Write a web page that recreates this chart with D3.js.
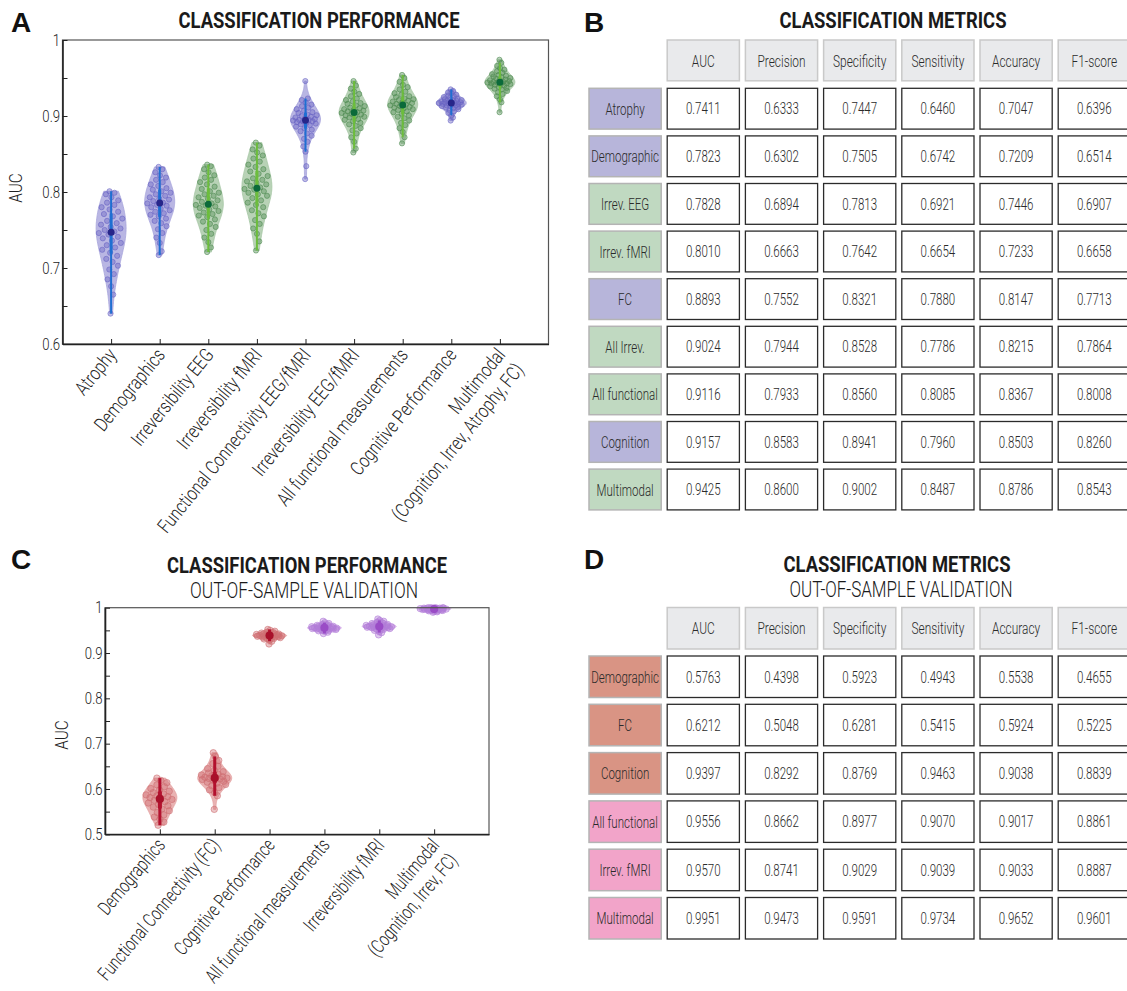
<!DOCTYPE html>
<html>
<head>
<meta charset="utf-8">
<script src="https://cdn.jsdelivr.net/npm/d3@7"></script>
<style>
  body { margin: 0; background: #fff; }
  text { font-family: Roboto, "Liberation Sans", sans-serif; fill: #222; }
</style>
</head>
<body>
<div id="chart"></div>
<script>
// ---- panel A data (AUC per cross-validation run) ----
var catsA = ["Atrophy", "Demographics", "Irreversibility EEG", "Irreversibility fMRI",
  "Functional Connectivity EEG/fMRI", "Irreversibility EEG/fMRI", "All functional measurements",
  "Cognitive Performance", "Multimodal\n(Cognition, Irrev, Atrophy, FC)"];

var atrophyAUC = [0.640, 0.665, 0.676, 0.685, 0.692, 0.698, 0.703, 0.708, 0.712, 0.716, 0.720, 0.724, 0.727, 0.730,
  0.733, 0.736, 0.739, 0.741, 0.744, 0.746, 0.748, 0.750, 0.752, 0.754, 0.757, 0.759, 0.762, 0.765, 0.768, 0.771,
  0.774, 0.777, 0.780, 0.783, 0.786, 0.789, 0.793, 0.797, 0.799, 0.801];
var demographicsAUC = [0.717, 0.722, 0.733, 0.740, 0.746, 0.751, 0.755, 0.759, 0.762, 0.765, 0.768, 0.770, 0.772,
  0.774, 0.776, 0.778, 0.780, 0.782, 0.783, 0.785, 0.786, 0.788, 0.790, 0.791, 0.793, 0.795, 0.797, 0.799, 0.801,
  0.803, 0.805, 0.808, 0.810, 0.813, 0.816, 0.819, 0.822, 0.826, 0.830, 0.833];
var irrevEegAUC = [0.721, 0.727, 0.734, 0.740, 0.745, 0.750, 0.754, 0.758, 0.761, 0.764, 0.767, 0.769, 0.771, 0.773,
  0.775, 0.777, 0.779, 0.781, 0.782, 0.783, 0.785, 0.787, 0.789, 0.791, 0.793, 0.795, 0.797, 0.799, 0.801, 0.804,
  0.807, 0.810, 0.813, 0.816, 0.819, 0.822, 0.826, 0.830, 0.834, 0.836];
var irrevFmriAUC = [0.723, 0.735, 0.745, 0.752, 0.758, 0.763, 0.768, 0.772, 0.776, 0.780, 0.783, 0.786, 0.789, 0.792,
  0.795, 0.797, 0.799, 0.801, 0.803, 0.804, 0.806, 0.808, 0.810, 0.812, 0.814, 0.816, 0.818, 0.821, 0.824, 0.827,
  0.830, 0.833, 0.836, 0.840, 0.844, 0.848, 0.852, 0.856, 0.861, 0.865];
var fcAUC = [0.817, 0.834, 0.853, 0.860, 0.866, 0.870, 0.874, 0.877, 0.880, 0.882, 0.884, 0.886, 0.888, 0.889, 0.890,
  0.891, 0.892, 0.893, 0.893, 0.894, 0.895, 0.895, 0.896, 0.897, 0.898, 0.899, 0.900, 0.901, 0.902, 0.904, 0.905,
  0.907, 0.909, 0.911, 0.913, 0.915, 0.918, 0.921, 0.923, 0.946];
var irrevBothAUC = [0.852, 0.857, 0.866, 0.872, 0.877, 0.881, 0.884, 0.887, 0.889, 0.891, 0.893, 0.895, 0.896, 0.898,
  0.899, 0.900, 0.901, 0.902, 0.903, 0.904, 0.905, 0.906, 0.907, 0.908, 0.909, 0.910, 0.911, 0.913, 0.914, 0.916,
  0.917, 0.919, 0.921, 0.923, 0.926, 0.929, 0.932, 0.936, 0.940, 0.946];
var allFunctionalAUC = [0.864, 0.872, 0.879, 0.884, 0.888, 0.891, 0.894, 0.897, 0.899, 0.901, 0.903, 0.905, 0.906,
  0.908, 0.909, 0.910, 0.911, 0.912, 0.913, 0.914, 0.915, 0.916, 0.917, 0.918, 0.919, 0.920, 0.921, 0.922, 0.923,
  0.925, 0.926, 0.928, 0.930, 0.932, 0.935, 0.938, 0.941, 0.945, 0.950, 0.954];
var cognitionAUC = [0.894, 0.898, 0.901, 0.904, 0.906, 0.908, 0.909, 0.910, 0.911, 0.912, 0.913, 0.913, 0.914, 0.914,
  0.915, 0.915, 0.916, 0.916, 0.917, 0.917, 0.917, 0.918, 0.918, 0.919, 0.919, 0.920, 0.920, 0.921, 0.921, 0.922,
  0.923, 0.924, 0.925, 0.926, 0.927, 0.928, 0.930, 0.931, 0.933, 0.935];
var multimodalAUC = [0.905, 0.918, 0.922, 0.926, 0.929, 0.931, 0.933, 0.935, 0.936, 0.937, 0.938, 0.939, 0.940, 0.941,
  0.942, 0.942, 0.943, 0.943, 0.944, 0.944, 0.945, 0.945, 0.946, 0.947, 0.947, 0.948, 0.949, 0.950, 0.951, 0.952,
  0.953, 0.954, 0.955, 0.957, 0.959, 0.961, 0.963, 0.966, 0.970, 0.974];

// ---- panel C data (out-of-sample) ----
var catsC = ["Demographics", "Functional Connectivity (FC)", "Cognitive Performance",
  "All functional measurements", "Irreversibility fMRI", "Multimodal\n(Cognition, Irrev, FC)"];

var oosDemographics = [0.520, 0.527, 0.533, 0.538, 0.543, 0.548, 0.552, 0.556, 0.560, 0.563, 0.566, 0.569, 0.572,
  0.575, 0.577, 0.579, 0.581, 0.583, 0.585, 0.587, 0.589, 0.592, 0.595, 0.598, 0.601, 0.605, 0.609, 0.614, 0.619, 0.624];
var oosFC = [0.555, 0.585, 0.592, 0.598, 0.603, 0.607, 0.610, 0.613, 0.615, 0.617, 0.619, 0.621, 0.622, 0.623, 0.624,
  0.625, 0.626, 0.627, 0.629, 0.631, 0.633, 0.635, 0.638, 0.641, 0.645, 0.650, 0.656, 0.663, 0.672, 0.680];
var oosCognition = [0.920, 0.926, 0.929, 0.931, 0.932, 0.933, 0.934, 0.935, 0.935, 0.936, 0.936, 0.937, 0.937, 0.938,
  0.938, 0.939, 0.939, 0.940, 0.940, 0.941, 0.941, 0.942, 0.942, 0.943, 0.944, 0.945, 0.946, 0.948, 0.950, 0.952];
var oosAllFunctional = [0.943, 0.946, 0.948, 0.949, 0.950, 0.951, 0.952, 0.952, 0.953, 0.953, 0.954, 0.954, 0.955,
  0.955, 0.955, 0.956, 0.956, 0.957, 0.957, 0.958, 0.958, 0.959, 0.959, 0.960, 0.961, 0.962, 0.963, 0.965, 0.967, 0.970];
var oosIrrevFmri = [0.940, 0.945, 0.948, 0.950, 0.952, 0.953, 0.954, 0.955, 0.956, 0.956, 0.957, 0.957, 0.958, 0.958,
  0.958, 0.959, 0.959, 0.960, 0.960, 0.961, 0.961, 0.962, 0.963, 0.964, 0.965, 0.966, 0.968, 0.970, 0.972, 0.975];
var oosMultimodal = [0.990, 0.991, 0.992, 0.993, 0.993, 0.994, 0.994, 0.995, 0.995, 0.995, 0.996, 0.996, 0.996, 0.996,
  0.997, 0.997, 0.997, 0.997, 0.998, 0.998, 0.998, 0.998, 0.999, 0.999, 0.999, 0.999, 1.000, 1.000, 1.000, 1.000];

// ---- tables ----
var metrics = ["AUC", "Precision", "Specificity", "Sensitivity", "Accuracy", "F1-score"];
var rowsB = ["Atrophy", "Demographic", "Irrev. EEG", "Irrev. fMRI", "FC", "All Irrev.", "All functional", "Cognition", "Multimodal"];
var valuesB = [
  [0.7411, 0.6333, 0.7447, 0.6460, 0.7047, 0.6396],
  [0.7823, 0.6302, 0.7505, 0.6742, 0.7209, 0.6514],
  [0.7828, 0.6894, 0.7813, 0.6921, 0.7446, 0.6907],
  [0.8010, 0.6663, 0.7642, 0.6654, 0.7233, 0.6658],
  [0.8893, 0.7552, 0.8321, 0.7880, 0.8147, 0.7713],
  [0.9024, 0.7944, 0.8528, 0.7786, 0.8215, 0.7864],
  [0.9116, 0.7933, 0.8560, 0.8085, 0.8367, 0.8008],
  [0.9157, 0.8583, 0.8941, 0.7960, 0.8503, 0.8260],
  [0.9425, 0.8600, 0.9002, 0.8487, 0.8786, 0.8543]];
var rowsD = ["Demographic", "FC", "Cognition", "All functional", "Irrev. fMRI", "Multimodal"];
var valuesD = [
  [0.5763, 0.4398, 0.5923, 0.4943, 0.5538, 0.4655],
  [0.6212, 0.5048, 0.6281, 0.5415, 0.5924, 0.5225],
  [0.9397, 0.8292, 0.8769, 0.9463, 0.9038, 0.8839],
  [0.9556, 0.8662, 0.8977, 0.9070, 0.9017, 0.8861],
  [0.9570, 0.8741, 0.9029, 0.9039, 0.9033, 0.8887],
  [0.9951, 0.9473, 0.9591, 0.9734, 0.9652, 0.9601]];

// ---- styles ----
var purple = {fill: "#a7a4dc", dot: "#6a64c4", line: "#1f6fd2", med: "#27268a"},
    green  = {fill: "#a6c7a4", dot: "#4f8c52", line: "#6cbd3c", med: "#0b6a3a"},
    red    = {fill: "#e3a0a0", dot: "#cf6f72", line: "#b3112e", med: "#a8102a"},
    violet = {fill: "#d4ace8", dot: "#b27cd8", line: "#9a4cc6", med: "#9a4cc6"};
var palA = [purple, purple, green, green, purple, green, green, purple, green];
var palC = [red, red, red, violet, violet, violet];
var rowFillB = ["#b7b5da", "#b7b5da", "#c0d9c1", "#c0d9c1", "#b7b5da", "#c0d9c1", "#c0d9c1", "#b7b5da", "#c0d9c1"];
var rowFillD = ["#d99484", "#d99484", "#d99484", "#f2a4c9", "#f2a4c9", "#f2a4c9"];

var svg = d3.select("#chart").append("svg")
    .attr("width", 1127)
    .attr("height", 991);

var fmt4 = d3.format(".4f");

// panel letters and titles
function letter(txt, x, y) {
  svg.append("text").attr("x", x).attr("y", y).text(txt)
    .style("font-family", "'Liberation Sans', Arial, sans-serif")
    .style("font-weight", "bold").style("font-size", "28px").style("fill", "#111");
}
function title(txt, cx, y, len, bold) {
  svg.append("text").attr("x", cx).attr("y", y).text(txt)
    .attr("text-anchor", "middle")
    .attr("textLength", len).attr("lengthAdjust", "spacingAndGlyphs")
    .style("font-weight", bold ? "bold" : "300")
    .style("font-size", "22px").style("fill", "#1a1a1a");
}

letter("A", 11, 32);
letter("B", 584, 32);
letter("C", 11, 569);
letter("D", 584, 569);
title("CLASSIFICATION PERFORMANCE", 319, 28, 281, true);
title("CLASSIFICATION METRICS", 893, 28, 227, true);
title("CLASSIFICATION PERFORMANCE", 307, 573, 280, true);
title("OUT-OF-SAMPLE VALIDATION", 304, 598, 228, false);
title("CLASSIFICATION METRICS", 897, 572, 227, true);
title("OUT-OF-SAMPLE VALIDATION", 901, 597, 223, false);

// violin + swarm panel
function violinPanel(sets, cats, pal, x, y, yTicks, halfW, r, lw, squeeze, angle) {
  var x0 = x.range()[0], x1 = x.range()[1], y0 = y.range()[0], y1 = y.range()[1];
  var g = svg.append("g");

  sets.forEach(function(vals, i) {
    var c = pal[i], cx = x(i + 1);
    var s = vals.slice().sort(d3.ascending), n = s.length;
    var bw = 1.06 * d3.deviation(s) * Math.pow(n, -0.2);
    var kde = function(v) { return d3.sum(s, function(d) { return Math.exp(-0.5 * Math.pow((v - d) / bw, 2)); }); };
    var grid = d3.range(81).map(function(k) { return s[0] + (s[n - 1] - s[0]) * k / 80; });
    var dens = grid.map(function(v) { return [v, kde(v)]; });
    var w = d3.scaleLinear().domain([0, d3.max(dens, function(d) { return d[1]; })]).range([0, halfW]);

    var area = d3.area()
        .curve(d3.curveBasis)
        .y(function(d) { return y(d[0]); })
        .x0(function(d) { return cx - w(d[1]); })
        .x1(function(d) { return cx + w(d[1]); });
    g.append("path").datum(dens).attr("d", area)
      .attr("fill", c.fill).attr("fill-opacity", 0.8)
      .attr("stroke", c.fill).attr("stroke-width", 0.8);

    // swarm points, spread inside the violin width
    g.selectAll(null).data(vals).enter().append("circle")
      .attr("cx", function(d, k) {
        var j = ((k * 0.618034 + 0.27) % 1) * 2 - 1;
        return cx + j * 0.85 * w(kde(d));
      })
      .attr("cy", function(d) { return y(d); })
      .attr("r", r)
      .attr("fill", c.dot).attr("fill-opacity", 0.4)
      .attr("stroke", c.dot).attr("stroke-opacity", 0.75).attr("stroke-width", 0.8);

    var q1 = d3.quantile(s, 0.25), q3 = d3.quantile(s, 0.75), iqr = q3 - q1;
    var inl = s.filter(function(v) { return v >= q1 - 1.5 * iqr && v <= q3 + 1.5 * iqr; });
    g.append("line").attr("x1", cx).attr("x2", cx)
      .attr("y1", y(d3.min(inl))).attr("y2", y(d3.max(inl)))
      .attr("stroke", c.line).attr("stroke-width", lw);
    g.append("line").attr("x1", cx).attr("x2", cx)
      .attr("y1", y(q1)).attr("y2", y(q3))
      .attr("stroke", c.line).attr("stroke-width", lw + 1);
    g.append("circle").attr("cx", cx).attr("cy", y(d3.median(s))).attr("r", r + 0.9)
      .attr("fill", c.med);
  });

  // frame
  svg.append("rect").attr("x", x0).attr("y", y1).attr("width", x1 - x0).attr("height", y0 - y1)
    .attr("fill", "none").attr("stroke", "#555").attr("stroke-width", 1.2);

  var yAxis = d3.axisLeft(y)
      .tickValues(yTicks)
      .tickSizeInner(-5).tickSizeOuter(0).tickPadding(3)
      .tickFormat(function(v) {
        var t = Math.round(v * 100);
        if (t % 10 !== 0) return "";
        return t === 100 ? "1" : d3.format(".1f")(v);
      });
  var ya = svg.append("g").attr("transform", "translate(" + x0 + ",0)").call(yAxis);
  ya.select(".domain").attr("stroke", "#222").attr("stroke-width", 1.6);
  ya.selectAll(".tick line").attr("stroke", "#222");
  ya.selectAll("text").style("font-size", "16px").style("font-family", null).style("font-weight", "300")
    .attr("fill", "#222").attr("transform", "scale(0.82,1)");

  var xAxis = d3.axisBottom(x).tickValues(d3.range(1, cats.length + 1))
      .tickSizeInner(-5).tickSizeOuter(0).tickFormat("");
  var xa = svg.append("g").attr("transform", "translate(0," + y0 + ")").call(xAxis);
  xa.select(".domain").attr("stroke", "#222").attr("stroke-width", 1.6);
  xa.selectAll(".tick line").attr("stroke", "#222");

  // rotated category labels (squeezed along their baseline)
  cats.forEach(function(lbl, i) {
    var t = svg.append("text")
        .attr("transform", "translate(" + (x(i + 1) + 1) + "," + (y0 + 7) + ") rotate(" + angle + ") scale(" + squeeze + ",1)")
        .attr("text-anchor", "end")
        .style("font-size", "19.5px").style("font-weight", "300");
    lbl.split("\n").forEach(function(line, k) {
      t.append("tspan").attr("x", 0).attr("dy", k === 0 ? "0.35em" : "1.2em").text(line);
    });
  });
  return g;
}

var xA = d3.scaleLinear().domain([0, 10]).range([62.5, 548.5]);
var yA = d3.scaleLinear().domain([0.6, 1]).range([344, 40]);
violinPanel([atrophyAUC, demographicsAUC, irrevEegAUC, irrevFmriAUC, fcAUC, irrevBothAUC, allFunctionalAUC, cognitionAUC, multimodalAUC],
  catsA, palA, xA, yA, d3.range(0.6, 1.001, 0.05), 15, 2.6, 2, 0.8, -51);

var xC = d3.scaleLinear().domain([0, 7]).range([105, 489]);
var yC = d3.scaleLinear().domain([0.5, 1]).range([834.3, 607.7]);
violinPanel([oosDemographics, oosFC, oosCognition, oosAllFunctional, oosIrrevFmri, oosMultimodal],
  catsC, palC, xC, yC, d3.range(0.5, 1.001, 0.05), 17, 3.2, 3, 0.74, -50);

svg.append("text").attr("transform", "translate(22,188) rotate(-90) scale(0.85,1)")
  .attr("text-anchor", "middle").style("font-size", "18px").style("font-weight", "300").text("AUC");
svg.append("text").attr("transform", "translate(68,735) rotate(-90) scale(0.85,1)")
  .attr("text-anchor", "middle").style("font-size", "18px").style("font-weight", "300").text("AUC");

// metric tables
function table(headTop, rowTop, pitch, rows, vals, fills) {
  var cols = ["_label"].concat(metrics);
  var x = d3.scaleBand().domain(cols).range([589, 589 + 7 * 78.2 - 6]).paddingInner(6 / 78.2);
  var y = d3.scaleBand().domain(rows).range([rowTop, rowTop + rows.length * pitch - 6.8]).paddingInner(6.8 / pitch);
  var g = svg.append("g");
  var cellH = y.bandwidth();

  function label(parent, txt, cx, cy, size, sx) {
    parent.append("text")
      .attr("transform", "translate(" + cx + "," + cy + ") scale(" + sx + ",1)")
      .attr("text-anchor", "middle").attr("dy", "0.36em")
      .style("font-size", size + "px").style("font-weight", "300").style("fill", "#2a2a2a").text(txt);
  }

  metrics.forEach(function(m) {
    g.append("rect").attr("x", x(m)).attr("y", headTop).attr("width", x.bandwidth()).attr("height", cellH)
      .attr("fill", "#e9eaec").attr("stroke", "#c9c9c9").attr("stroke-width", 1.5);
    label(g, m, x(m) + x.bandwidth() / 2, headTop + cellH / 2, 17, 0.7);
  });

  rows.forEach(function(rw, i) {
    g.append("rect").attr("x", x("_label")).attr("y", y(rw)).attr("width", x.bandwidth()).attr("height", cellH)
      .attr("fill", fills[i]).attr("stroke", "#b4b4b4").attr("stroke-width", 1.5);
    label(g, rw, x("_label") + x.bandwidth() / 2, y(rw) + cellH / 2, 17, 0.68);
    metrics.forEach(function(m, j) {
      g.append("rect").attr("x", x(m)).attr("y", y(rw)).attr("width", x.bandwidth()).attr("height", cellH)
        .attr("fill", "#fff").attr("stroke", "#2b2b2b").attr("stroke-width", 1.3);
      label(g, fmt4(vals[i][j]), x(m) + x.bandwidth() / 2, y(rw) + cellH / 2, 16, 0.72);
    });
  });
}

table(40, 88.3, 47.6, rowsB, valuesB, rowFillB);
table(607.5, 656, 48.3, rowsD, valuesD, rowFillD);
</script>
</body>
</html>
